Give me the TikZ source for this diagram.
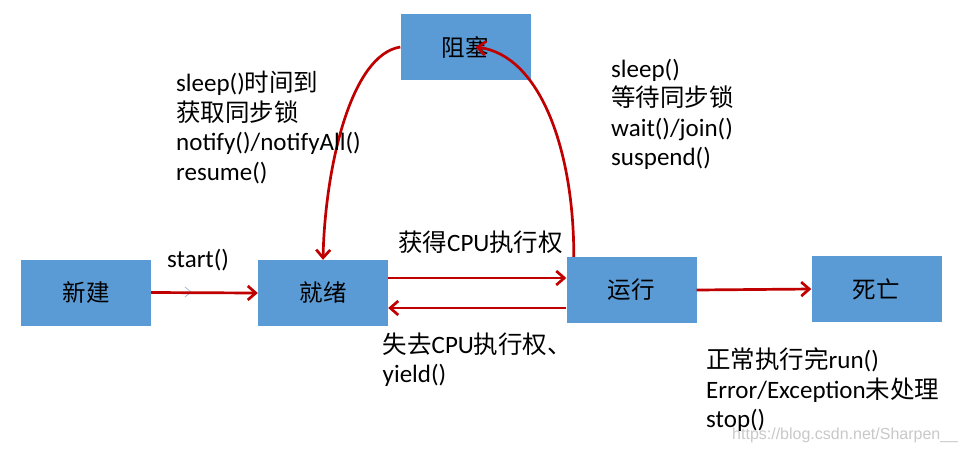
\documentclass[tikz,border=0pt]{standalone}
\usepackage{fontspec}
\setmainfont{Carlito}
\newfontfamily\cjk[Scale=0.98]{Noto Sans CJK SC}
\newfontfamily\wmfont{Liberation Sans}
\usetikzlibrary{arrows.meta}
\definecolor{boxblue}{HTML}{5B9BD5}
\definecolor{flowred}{HTML}{C00000}
\definecolor{chevblue}{HTML}{9DBCE4}
\definecolor{wmgray}{HTML}{C8C8C8}
\newcommand{\zh}[1]{{\cjk #1}}

\begin{document}
\begin{tikzpicture}[x=1pt,y=-1pt,
  state/.style={fill=boxblue, draw=none, minimum width=130pt, minimum height=66pt,
    inner sep=0pt, font=\cjk\fontsize{24}{29}\selectfont},
  flow/.style={draw=flowred, line width=2.7pt,
    -{Straight Barb[length=8pt,width=14pt]}},
  lbl/.style={anchor=base west, inner sep=0pt, font=\fontsize{25}{29}\selectfont}
]
\useasboundingbox (0,0) rectangle (964,451);

% thread states
\node[state] (xinjian) at (86,292.5) {新建};
\node[state] (jiuxu)   at (323,293)  {就绪};
\node[state] (zuse)    at (465.5,47) {阻塞};
\node[state] (yunxing) at (631.5,290) {运行};
\node[state] (siwang)  at (876.5,289) {死亡};

% small chevron mark on the start() line
\draw[chevblue, line width=0.8pt] (185,287) -- (191,292) -- (185,297);

% transitions
\draw[flow] (xinjian.east) -- (jiuxu.west);
\draw[flow] ([yshift=15pt]jiuxu.east) -- ([yshift=15pt]jiuxu.east -| yunxing.west);
\draw[flow] ([yshift=-15pt]jiuxu.east -| yunxing.west) -- ([yshift=-15pt]jiuxu.east);
\draw[flow] (yunxing.east) -- (siwang.west);
\draw[flow] (zuse.west) .. controls (350,55) and (325,170) .. (jiuxu.north);
\draw[flow] ([xshift=7.5pt]yunxing.north west) .. controls (574,150) and (540,55) .. ([xshift=10pt]zuse.center);

% transition labels
\node[lbl] (tstart) at (167,267) {start()};

\node[lbl] (b1) at (176,91.7)  {sleep()\zh{时间到}};
\node[lbl] (b2) at (176,121.2) {\zh{获取同步锁}};
\node[lbl] (b3) at (176,150.7) {notify()/notifyAll()};
\node[lbl] (b4) at (176,180.2) {resume()};

\node[lbl] (r1) at (611,77)    {sleep()};
\node[lbl] (r2) at (611,106.5) {\zh{等待同步锁}};
\node[lbl] (r3) at (611,136)   {wait()/join()};
\node[lbl] (r4) at (611,165.5) {suspend()};

\node[lbl] (gain) at (398,251) {\zh{获得}CPU\zh{执行权}};
\node[lbl] (lose1) at (382.5,353.3) {\zh{失去}CPU\zh{执行权、}};
\node[lbl] (lose2) at (382.5,382) {yield()};

\node[lbl] (d1) at (706,368.5) {\zh{正常执行完}run()};
\node[lbl] (d2) at (706,398)   {Error/Exception\zh{未处理}};
\node[lbl] (d3) at (706,427.5) {stop()};

\node[anchor=base west, inner sep=0pt, text=wmgray, font=\wmfont\fontsize{16}{16}\selectfont]
  (wm) at (732,439) {https://blog.csdn.net/Sharpen\_\_};
\end{tikzpicture}
\end{document}
